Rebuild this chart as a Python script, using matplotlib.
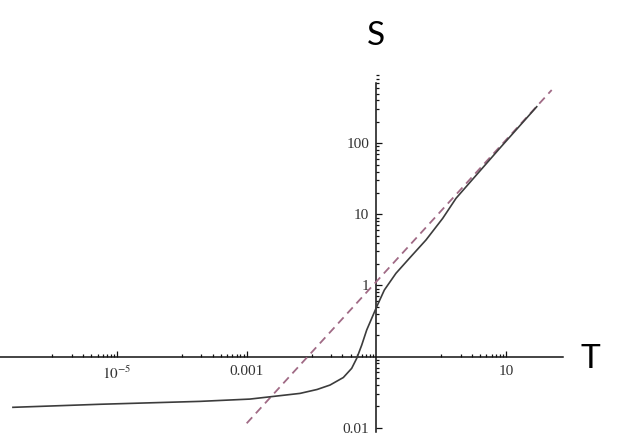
import matplotlib
matplotlib.use("Agg")
import matplotlib.pyplot as plt
from matplotlib.ticker import FixedLocator, FixedFormatter, NullFormatter

# ---- data (log-log) ----
T_curve = [2.47e-7, 5.43e-6, 1.90e-4, 1.12e-3, 6.65e-3, 0.0122, 0.0193, 0.0310,
           0.0417, 0.0499, 0.0596, 0.0711, 0.0849, 0.101, 0.133, 0.201, 0.323,
           0.585, 1.06, 1.70, 8.11, 29.9]
S_curve = [0.0193, 0.0213, 0.0234, 0.0252, 0.0303, 0.0344, 0.0397, 0.0507,
           0.0682, 0.0944, 0.145, 0.236, 0.344, 0.497, 0.861, 1.48, 2.40,
           4.36, 8.79, 16.8, 85.7, 326.0]

T_fit = [1.0e-3, 50.9]
S_fit = [1.15e-2, 560.0]

x_major = [1e-5, 1e-3, 10]
x_major_labels = [r"$10^{-5}$", "0.001", "10"]
y_major = [0.01, 1, 10, 100]
y_major_labels = ["0.01", "1", "10", "100"]

x_minor = [k * 10.0 ** n for n in (-6, -4, -2, 0) for k in range(1, 10)]
x_minor = [v for v in x_minor if v not in (1e-5, 1e-3, 10)]
y_minor = [k * 10.0 ** n for n in (-2, -1, 0, 1, 2) for k in range(2, 10)]

plt.rcParams["mathtext.fontset"] = "stix"

fig = plt.figure(figsize=(6.23, 4.4), dpi=100)
ax = fig.add_axes([0, 0, 1, 1])
ax.set_xscale("log")
ax.set_yscale("log")
ax.set_xlim(10 ** -6.807, 10 ** 2.807)
ax.set_ylim(10 ** -2.174, 10 ** 4.014)
ax.patch.set_alpha(0)

ax.plot(T_fit, S_fit, color="#a06a85", lw=1.3, dashes=(4.5, 3.0), zorder=3)
ax.plot(T_curve, S_curve, color="#3c3c3c", lw=1.2, zorder=4)

for s in ("top", "right"):
    ax.spines[s].set_visible(False)
ax.spines["left"].set_position(("data", 0.1))
ax.spines["bottom"].set_position(("data", 0.1))
ax.spines["bottom"].set_bounds(10 ** -6.807, 10 ** 1.881)
ax.spines["left"].set_bounds(10 ** -2.062, 10 ** 2.847)
for s in ("left", "bottom"):
    ax.spines[s].set_linewidth(1.1)
    ax.spines[s].set_color("#111111")

ax.xaxis.set_major_locator(FixedLocator(x_major))
ax.xaxis.set_major_formatter(FixedFormatter(x_major_labels))
ax.xaxis.set_minor_locator(FixedLocator(x_minor))
ax.xaxis.set_minor_formatter(NullFormatter())
ax.yaxis.set_major_locator(FixedLocator(y_major))
ax.yaxis.set_major_formatter(FixedFormatter(y_major_labels))
ax.yaxis.set_minor_locator(FixedLocator(y_minor))
ax.yaxis.set_minor_formatter(NullFormatter())

ax.tick_params(axis="both", which="major", direction="in", length=4, width=0.9,
               colors="#111111", labelcolor="#333333")
ax.tick_params(axis="both", which="minor", direction="in", length=2.2, width=0.9,
               colors="#111111")
ax.tick_params(axis="x", which="major", pad=6)
ax.tick_params(axis="y", which="major", pad=5)
for lab in ax.get_xticklabels() + ax.get_yticklabels():
    lab.set_fontfamily("Liberation Serif")
    lab.set_fontsize(11)

fig.text(375.5 / 623, 1 - 36 / 440, "S", ha="center", va="center",
         fontsize=24, family="Lato", color="black")
fig.text(590 / 623, 1 - 359 / 440, "T", ha="center", va="center",
         fontsize=24, family="Lato", color="black")

fig.savefig("out.png", dpi=100)
